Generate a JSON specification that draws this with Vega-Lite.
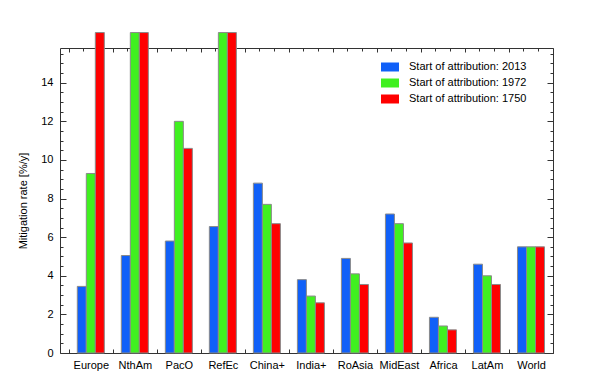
{
  "$schema": "https://vega.github.io/schema/vega-lite/v6.json",
  "autosize": "none",
  "width": 493,
  "height": 305,
  "padding": {"left": 60, "top": 48, "right": 47, "bottom": 30},
  "background": "white",
  "config": {
    "font": "Liberation Sans",
    "view": {"stroke": "#333", "strokeWidth": 1},
    "axis": {
      "labelFont": "Liberation Sans", "labelFontSize": 11, "labelColor": "#000",
      "titleFont": "Liberation Sans", "titleFontSize": 11, "titleFontWeight": "normal", "titleColor": "#000",
      "tickColor": "#333", "domain": false, "grid": false
    }
  },
  "data": {"values": [
    {"region": "Europe", "start": "2013", "rate": 3.45},
    {"region": "Europe", "start": "1972", "rate": 9.3},
    {"region": "Europe", "start": "1750", "rate": 16.6},
    {"region": "NthAm", "start": "2013", "rate": 5.05},
    {"region": "NthAm", "start": "1972", "rate": 16.6},
    {"region": "NthAm", "start": "1750", "rate": 16.6},
    {"region": "PacO", "start": "2013", "rate": 5.8},
    {"region": "PacO", "start": "1972", "rate": 12.0},
    {"region": "PacO", "start": "1750", "rate": 10.6},
    {"region": "RefEc", "start": "2013", "rate": 6.55},
    {"region": "RefEc", "start": "1972", "rate": 16.6},
    {"region": "RefEc", "start": "1750", "rate": 16.6},
    {"region": "China+", "start": "2013", "rate": 8.8},
    {"region": "China+", "start": "1972", "rate": 7.7},
    {"region": "China+", "start": "1750", "rate": 6.7},
    {"region": "India+", "start": "2013", "rate": 3.8},
    {"region": "India+", "start": "1972", "rate": 2.95},
    {"region": "India+", "start": "1750", "rate": 2.6},
    {"region": "RoAsia", "start": "2013", "rate": 4.9},
    {"region": "RoAsia", "start": "1972", "rate": 4.1},
    {"region": "RoAsia", "start": "1750", "rate": 3.55},
    {"region": "MidEast", "start": "2013", "rate": 7.2},
    {"region": "MidEast", "start": "1972", "rate": 6.7},
    {"region": "MidEast", "start": "1750", "rate": 5.7},
    {"region": "Africa", "start": "2013", "rate": 1.85},
    {"region": "Africa", "start": "1972", "rate": 1.4},
    {"region": "Africa", "start": "1750", "rate": 1.2},
    {"region": "LatAm", "start": "2013", "rate": 4.6},
    {"region": "LatAm", "start": "1972", "rate": 4.0},
    {"region": "LatAm", "start": "1750", "rate": 3.55},
    {"region": "World", "start": "2013", "rate": 5.5},
    {"region": "World", "start": "1972", "rate": 5.5},
    {"region": "World", "start": "1750", "rate": 5.5}
  ]},
  "layer": [
    {
      "mark": {"type": "bar", "stroke": "#8a8a8a", "strokeWidth": 1, "clip": false},
      "encoding": {
        "x": {
          "field": "region", "type": "nominal",
          "sort": ["Europe","NthAm","PacO","RefEc","China+","India+","RoAsia","MidEast","Africa","LatAm","World"],
          "scale": {"paddingInner": 0, "paddingOuter": 0.1, "align": 1},
          "axis": {"title": null, "labelAngle": 0, "orient": "bottom", "tickBand": "extent", "tickSize": -4, "labelPadding": 10}
        },
        "xOffset": {
          "field": "start", "type": "nominal", "sort": ["2013","1972","1750"],
          "scale": {"paddingInner": 0, "paddingOuter": 0.944}
        },
        "y": {
          "field": "rate", "type": "quantitative",
          "scale": {"domain": [0, 15.8], "nice": false, "zero": true},
          "axis": {
            "title": "Mitigation rate [%/y]", "orient": "left", "format": "d",
            "values": [0,2,4,6,8,10,12,14],
            "tickSize": -6,
            "labelPadding": 13, "titlePadding": 12
          }
        },
        "color": {
          "field": "start", "type": "nominal",
          "scale": {"domain": ["2013","1972","1750"], "range": ["#1060f8","#40f020","#ff0000"]},
          "legend": {
            "orient": "none", "legendX": 321, "legendY": 10, "title": null,
            "symbolType": "M-1,-0.5H1V0.5H-1Z", "symbolSize": 324, "symbolStrokeWidth": 0, "symbolOpacity": 1,
            "labelOffset": 10, "labelFontSize": 11, "labelFont": "Liberation Sans", "rowPadding": 2,
            "labelExpr": "'Start of attribution: ' + datum.label"
          }
        }
      }
    },
    {
      "mark": {"type": "bar", "opacity": 0},
      "encoding": {
        "x": {
          "field": "region", "type": "nominal",
          "sort": ["Europe","NthAm","PacO","RefEc","China+","India+","RoAsia","MidEast","Africa","LatAm","World"],
          "axis": {"title": null, "labels": false, "orient": "top", "tickBand": "extent", "tickSize": -4}
        },
        "y": {
          "field": "rate", "type": "quantitative",
          "axis": {"title": null, "orient": "right", "labels": false, "values": [0,2,4,6,8,10,12,14], "tickSize": -6}
        }
      }
    },
    {
      "mark": {"type": "bar", "opacity": 0},
      "encoding": {
        "x": {
          "field": "region", "type": "nominal",
          "sort": ["Europe","NthAm","PacO","RefEc","China+","India+","RoAsia","MidEast","Africa","LatAm","World"],
          "axis": {"title": null, "labels": false, "orient": "top", "bandPosition": 0.3333, "tickSize": -3}
        },
        "y": {
          "field": "rate", "type": "quantitative",
          "axis": {"title": null, "orient": "left", "labels": false, "tickSize": -3,
            "values": [0.5,1,1.5,2.5,3,3.5,4.5,5,5.5,6.5,7,7.5,8.5,9,9.5,10.5,11,11.5,12.5,13,13.5,14.5,15,15.5]}
        }
      }
    },
    {
      "mark": {"type": "bar", "opacity": 0},
      "encoding": {
        "x": {
          "field": "region", "type": "nominal",
          "sort": ["Europe","NthAm","PacO","RefEc","China+","India+","RoAsia","MidEast","Africa","LatAm","World"],
          "axis": {"title": null, "labels": false, "orient": "top", "bandPosition": 0.6667, "tickSize": -3}
        },
        "y": {
          "field": "rate", "type": "quantitative",
          "axis": {"title": null, "orient": "right", "labels": false, "tickSize": -3,
            "values": [0.5,1,1.5,2.5,3,3.5,4.5,5,5.5,6.5,7,7.5,8.5,9,9.5,10.5,11,11.5,12.5,13,13.5,14.5,15,15.5]}
        }
      }
    }
  ],
  "resolve": {"axis": {"x": "independent", "y": "independent"}}
}
